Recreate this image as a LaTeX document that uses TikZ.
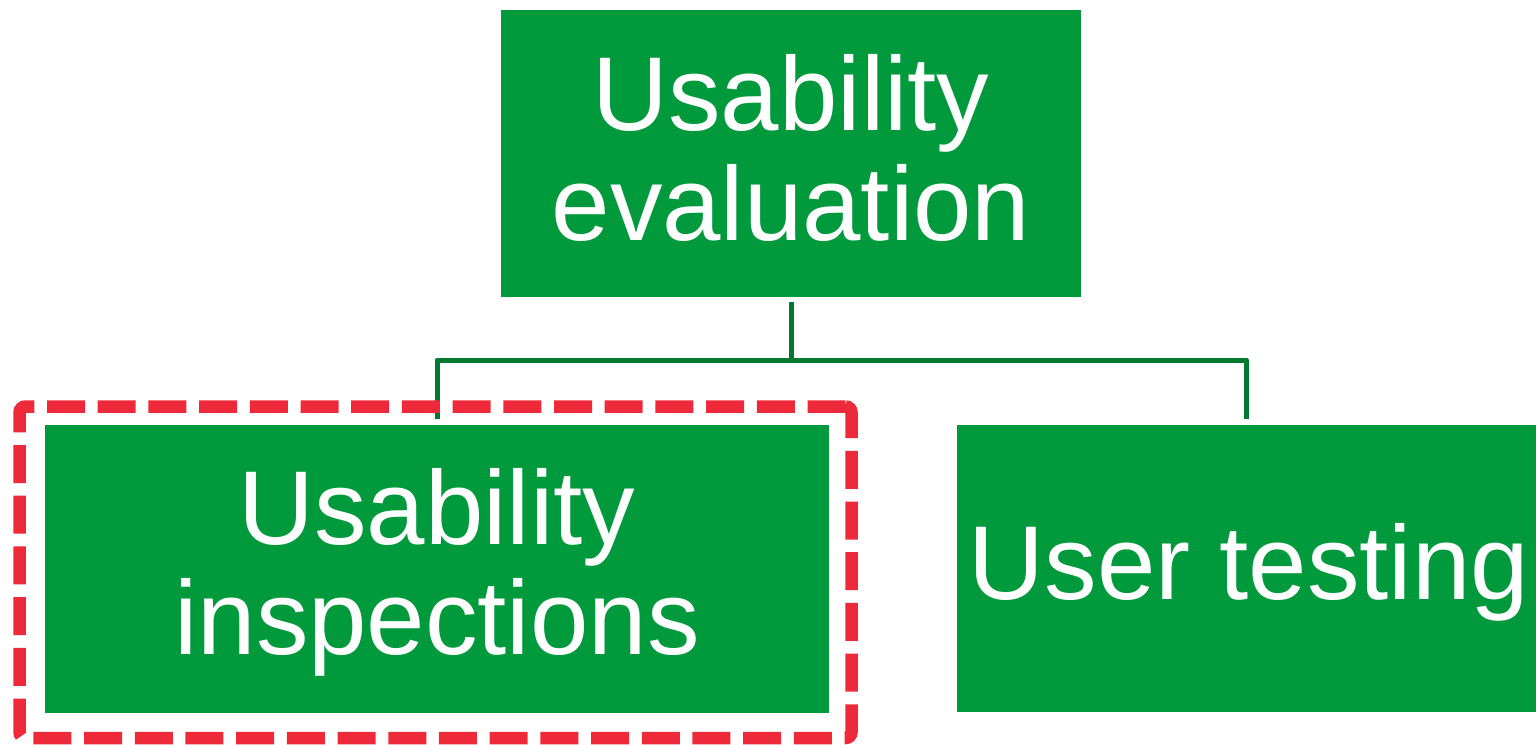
\documentclass[tikz,border=0pt]{standalone}
\usepackage{fontspec}
\setmainfont{Liberation Sans}
\definecolor{boxgreen}{HTML}{009A3C}
\definecolor{linegreen}{HTML}{007A30}
\definecolor{markred}{HTML}{EE2A3A}
\begin{document}
\begin{tikzpicture}[x=1pt,y=-1pt,
  box/.style={fill=boxgreen, draw=none, inner sep=0pt, text=white,
    align=center, font=\fontsize{105}{110}\selectfont},
  conn/.style={draw=linegreen, line width=5pt, line join=round},
  highlight/.style={draw=markred, line width=12.5pt, rounded corners=6pt,
    dash pattern=on 38pt off 12.7pt, inner sep=0pt}]
  \useasboundingbox (0,0) rectangle (1538,744);

  % evaluation categories
  \node[box, minimum width=580pt, minimum height=287pt] (top) at (791,153.5) {};
  \node[box, minimum width=784pt, minimum height=288pt] (left) at (437,569) {};
  \node[box, minimum width=579pt, minimum height=287pt] (right) at (1246.5,568.5) {};

  \node[box, fill=none] (toptext) at (791,148) {Usability\\evaluation};
  \node[box, fill=none] (lefttext) at (437,572) {Usability\\inspections};
  \node[box, fill=none] (righttext) at (1249,572) {User testing};

  % tree connectors
  \coordinate (bus) at (791,360);
  \draw[conn] ([yshift=-5pt]top.south) -- (bus);
  \draw[conn] ([yshift=6pt]left.north) |- (bus) -| ([yshift=6pt]right.north);

  % dashed frame around the inspections branch
  \node[highlight, minimum width=832pt, minimum height=331.5pt] (focus) at (435.5,572.25) {};
\end{tikzpicture}
\end{document}
